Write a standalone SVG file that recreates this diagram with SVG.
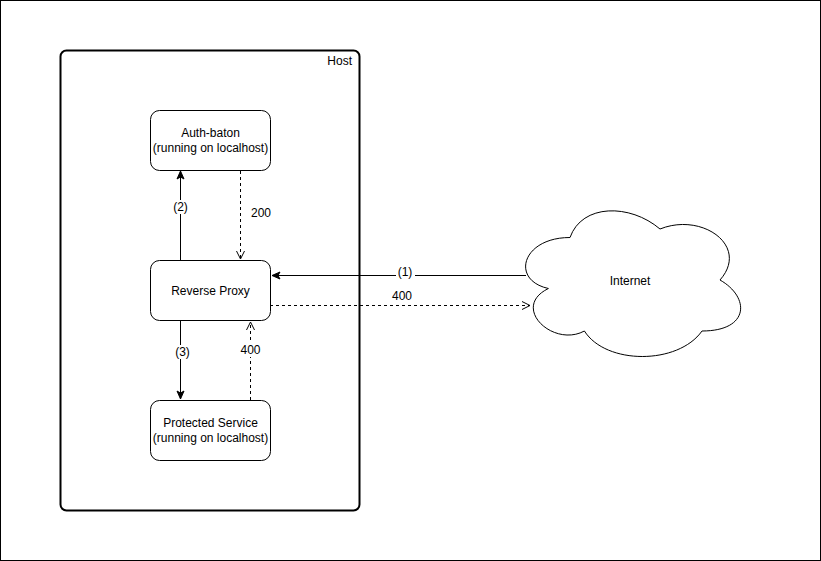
<svg xmlns="http://www.w3.org/2000/svg" width="821" height="561" viewBox="0 0 821 561">
<defs>
<style>
text{font-family:"Liberation Sans",Arial,sans-serif;font-size:12px;fill:#000}
.node{fill:#fff;stroke:#000;stroke-width:1}
.ln{fill:none;stroke:#000;stroke-width:1}
.dash{stroke-dasharray:3 3}
.lbl{fill:#fff;stroke:none}
</style>
<marker id="solid" viewBox="0 0 10 10" refX="9" refY="5" markerWidth="10" markerHeight="10" markerUnits="userSpaceOnUse" orient="auto">
<path d="M1,1.5 L9,5 L1,8.5 L3,5 Z" fill="#000" stroke="#000" stroke-width="1"/>
</marker>
<marker id="open" viewBox="0 0 10 10" refX="9" refY="5" markerWidth="10" markerHeight="10" markerUnits="userSpaceOnUse" orient="auto">
<path d="M1,1 L9,5 L1,9" fill="none" stroke="#000" stroke-width="1"/>
</marker>
</defs>
<rect x="0.5" y="0.5" width="820" height="560" fill="#fff" stroke="#000"/>
<g id="host">
<rect x="60.5" y="50.5" width="299" height="460" rx="6" fill="#fff" stroke="#000" stroke-width="2"/>
<text x="352" y="65" text-anchor="end">Host</text>
</g>
<g id="auth">
<rect class="node" x="150.5" y="110.5" width="120" height="60" rx="9"/>
<text x="210.5" y="137" text-anchor="middle">Auth-baton</text>
<text x="210.5" y="152" text-anchor="middle">(running on localhost)</text>
</g>
<g id="proxy">
<rect class="node" x="150.5" y="260.5" width="120" height="60" rx="9"/>
<text x="210.5" y="295" text-anchor="middle">Reverse Proxy</text>
</g>
<g id="service">
<rect class="node" x="150.5" y="400.5" width="120" height="60" rx="9"/>
<text x="210.5" y="427" text-anchor="middle">Protected Service</text>
<text x="210.5" y="442" text-anchor="middle">(running on localhost)</text>
</g>
<g id="internet">
<path class="node" d="M570,237.5 C522,237.5 510,280 548.4,288.5 C510,307.2 553.2,348 584.4,331 C606,365 678,365 702,331 C750,331 750,297 720,280 C750,246 702,212 660,229 C630,203.5 582,203.5 570,237.5 Z"/>
<text x="630" y="285" text-anchor="middle">Internet</text>
</g>
<g id="connectors">
<path class="ln" d="M180.5,260 L180.5,171" marker-end="url(#solid)"/>
<rect class="lbl" x="171" y="200" width="19" height="14"/>
<text x="180.5" y="211" text-anchor="middle">(2)</text>
<path class="ln dash" d="M240.5,171 L240.5,259" marker-end="url(#open)"/>
<text x="251" y="217">200</text>
<path class="ln" d="M180.5,321 L180.5,399" marker-end="url(#solid)"/>
<rect class="lbl" x="173" y="345" width="19" height="14"/>
<text x="182.5" y="356" text-anchor="middle">(3)</text>
<path class="ln dash" d="M250.5,400 L250.5,322" marker-end="url(#open)"/>
<rect class="lbl" x="240" y="343" width="22" height="14"/>
<text x="250.5" y="354" text-anchor="middle">400</text>
<path class="ln" d="M526,275.5 L272,275.5" marker-end="url(#solid)"/>
<rect class="lbl" x="396" y="266" width="19" height="12"/>
<text x="405" y="276" text-anchor="middle">(1)</text>
<path class="ln dash" d="M270,305.5 L530,305.5" marker-end="url(#open)"/>
<text x="402" y="300" text-anchor="middle">400</text>
</g>
</svg>
